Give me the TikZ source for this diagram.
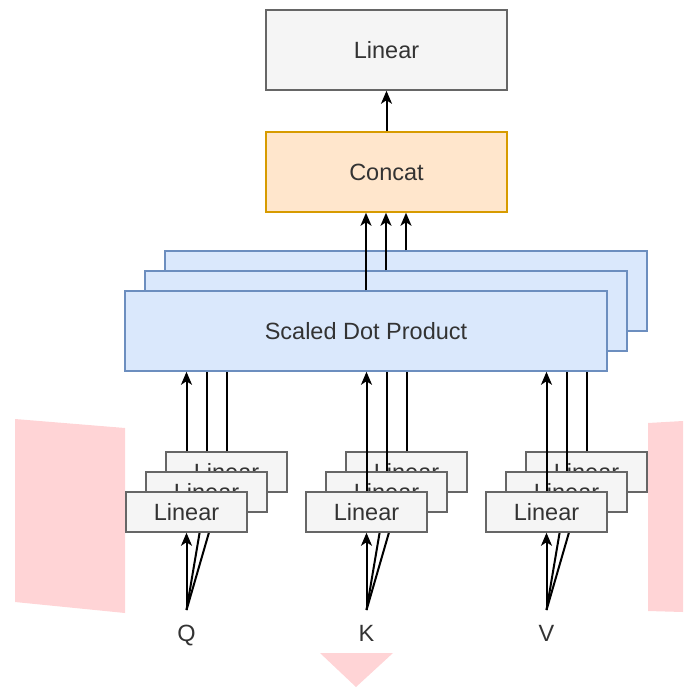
\documentclass[tikz,border=0pt]{standalone}
\usepackage{fontspec}
\setmainfont{Liberation Sans}
\usetikzlibrary{arrows.meta}
\definecolor{lgfill}{HTML}{F5F5F5}
\definecolor{lgline}{HTML}{666666}
\definecolor{orfill}{HTML}{FFE6CC}
\definecolor{orline}{HTML}{D79B00}
\definecolor{blfill}{HTML}{DAE8FC}
\definecolor{blline}{HTML}{6C8EBF}
\definecolor{txtc}{HTML}{333333}
\definecolor{pinkc}{RGB}{255,212,214}
\begin{document}
\begin{tikzpicture}[x=1pt,y=-1pt,
  lbl/.style={font=\fontsize{23.5}{28}\selectfont, text=txtc, inner sep=0pt},
  basebox/.style={lbl, line width=1.5pt},
  bigbox/.style={basebox, minimum width=241pt, minimum height=80pt},
  graybig/.style={bigbox, draw=lgline, fill=lgfill},
  orbox/.style={bigbox, draw=orline, fill=orfill},
  sdpbox/.style={basebox, draw=blline, fill=blfill, minimum width=482pt, minimum height=80pt},
  linbox/.style={basebox, draw=lgline, fill=lgfill, minimum width=121pt, minimum height=40pt},
  arr/.style={line width=2pt, -{Stealth[length=13pt,width=11pt,inset=3.5pt]}},
  ln/.style={line width=2pt}
]
\useasboundingbox (0,0) rectangle (683,688);
% pink shapes
\fill[pinkc] (15,419) -- (125,428) -- (125,613) -- (15,602) -- cycle;
\fill[pinkc] (648,423) -- (683,421) -- (683,612) -- (648,611) -- cycle;
\fill[pinkc] (320,653) -- (393,653) -- (356,687) -- cycle;

% top
\node[graybig] (L) at (386.5,50) {Linear};
\node[orbox] (C) at (386.5,172) {Concat};
\draw[arr] (C.north) -- (L.south);

% scaled dot product stack
\node[sdpbox] (S3) at (406,291) {};
\node[sdpbox] (S2) at (386,311) {};
\node[sdpbox] (S1) at (366,331) {Scaled Dot Product};
\draw[arr] (S1.north) -- (S1.north |- C.south);
\draw[arr] (S2.north) -- (S2.north |- C.south);
\draw[arr] (S3.north) -- (S3.north |- C.south);

% labels
\node[lbl, anchor=base] (Q) at (186.5,641) {Q};
\node[lbl, anchor=base] (K) at (366.5,641) {K};
\node[lbl, anchor=base] (V) at (546.5,641) {V};
\coordinate (Qt) at (186.5,610);
\coordinate (Kt) at (366.5,610);
\coordinate (Vt) at (546.5,610);

% Q group
\coordinate (Qbc) at (226.5,472);
\coordinate (Qmc) at (206.5,492);
\draw[ln] (Qt) -- (Qmc);
\draw[ln] (Qt) -- (Qbc);
\node[linbox] (Qb) at (Qbc) {Linear};
\node[linbox] (Qm) at (Qmc) {Linear};
\node[linbox] (Qf) at (186.5,512) {Linear};
\draw[arr] (Qb.north -| Qf.north) -- (Qf.north |- S1.south);
\draw[ln] (Qb.north -| Qm.north) -- (Qm.north |- S1.south);
\draw[ln] (Qb.north) -- (Qb.north |- S1.south);
\draw[arr] (Qt) -- (Qf.south);

% K group
\coordinate (Kbc) at (406.5,472);
\coordinate (Kmc) at (386.5,492);
\draw[ln] (Kt) -- (Kmc);
\draw[ln] (Kt) -- (Kbc);
\node[linbox] (Kb) at (Kbc) {Linear};
\draw[ln] (Kb.north) -- (Kb.north |- S1.south);
\draw[ln] (Kmc) -- (Kmc |- S1.south);
\draw[ln] (366.5,492) -- (366.5,385);
\node[linbox] (Km) at (Kmc) {Linear};
\node[linbox] (Kf) at (366.5,512) {Linear};
\draw[arr] (Kf.north) -- (Kf.north |- S1.south);
\draw[arr] (Kt) -- (Kf.south);

% V group
\coordinate (Vbc) at (586.5,472);
\coordinate (Vmc) at (566.5,492);
\draw[ln] (Vt) -- (Vmc);
\draw[ln] (Vt) -- (Vbc);
\node[linbox] (Vb) at (Vbc) {Linear};
\draw[ln] (Vb.north) -- (Vb.north |- S1.south);
\draw[ln] (Vmc) -- (Vmc |- S1.south);
\draw[ln] (546.5,492) -- (546.5,385);
\node[linbox] (Vm) at (Vmc) {Linear};
\node[linbox] (Vf) at (546.5,512) {Linear};
\draw[arr] (Vf.north) -- (Vf.north |- S1.south);
\draw[arr] (Vt) -- (Vf.south);
\end{tikzpicture}
\end{document}
